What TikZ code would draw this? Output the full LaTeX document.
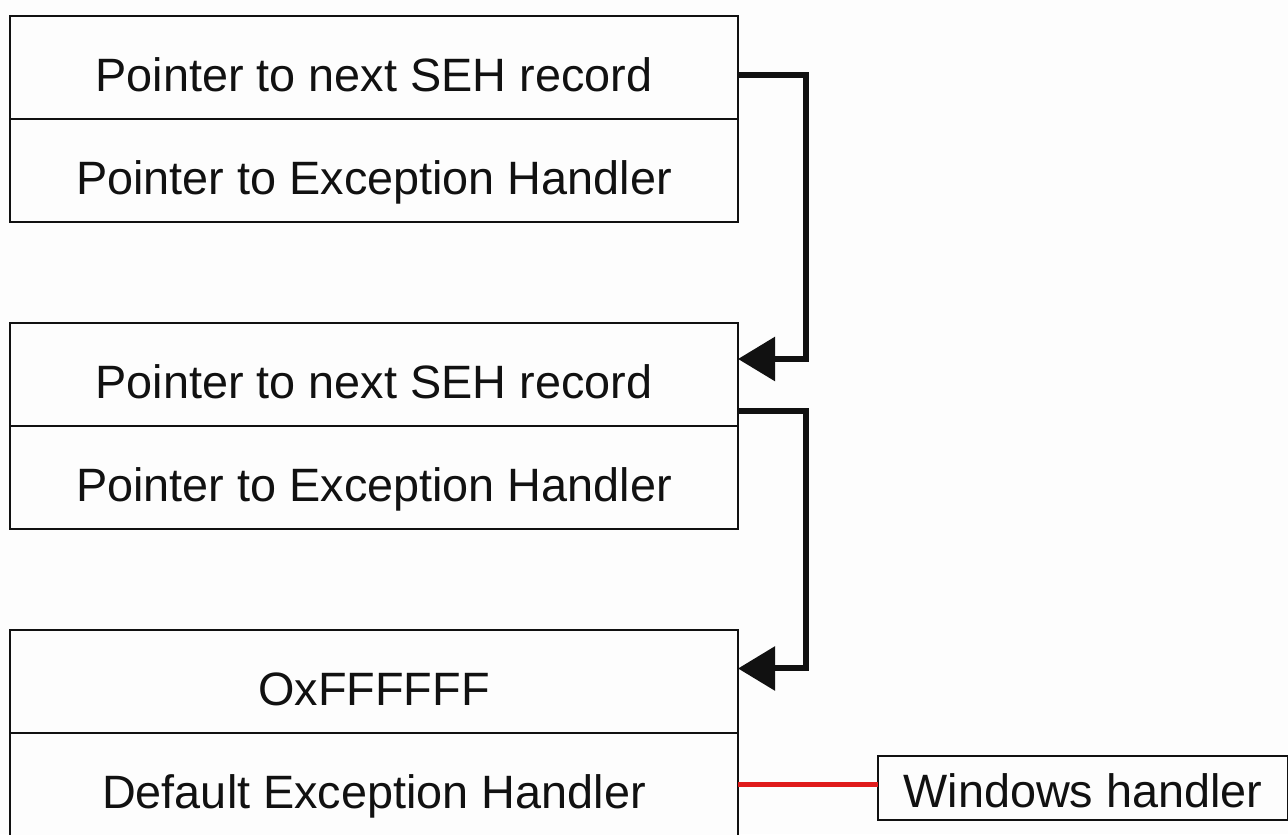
\documentclass[tikz,border=0pt]{standalone}
\usepackage{fontspec}
\setmainfont{Liberation Sans}
\usetikzlibrary{arrows.meta,positioning}
\definecolor{ink}{HTML}{111111}
\definecolor{paper}{HTML}{FDFDFD}
\definecolor{hookred}{HTML}{E01B1B}
\tikzset{
  cell/.style={
    rectangle,
    draw=ink,
    line width=1pt,
    fill=paper,
    outer sep=0pt,
    minimum width=364pt,
    minimum height=51.5pt,
    inner ysep=2pt,
    text height=23.75pt,
    text depth=0pt,
    font=\fontsize{23.4}{28}\selectfont,
    text=ink
  },
  smallcell/.style={
    cell,
    minimum width=205pt,
    minimum height=32pt,
    text height=19.5pt
  },
  link/.style={
    -{Triangle[length=18.5pt,width=21.5pt]},
    draw=ink,
    line width=3pt
  },
  hook/.style={
    draw=hookred,
    line width=2.5pt
  }
}
\begin{document}
\begin{tikzpicture}[x=0.5pt,y=0.5pt]
  \fill[paper] (0,0) rectangle (1288,834);
  \useasboundingbox (0,0) rectangle (1288,834);

  \node[cell] (rec1a) at (374,766.5) {Pointer to next SEH record};
  \node[cell, below=0pt of rec1a] (rec1b) {Pointer to Exception Handler};

  \node[cell, below=50.5pt of rec1b] (rec2a) {Pointer to next SEH record};
  \node[cell, below=0pt of rec2a] (rec2b) {Pointer to Exception Handler};

  \node[cell, below=50.5pt of rec2b] (rec3a) {OxFFFFFF};
  \node[cell, below=0pt of rec3a] (rec3b) {Default Exception Handler};

  \node[smallcell, anchor=west] (winh) at ([xshift=70pt,yshift=-1.75pt]rec3b.east) {Windows handler};

  \draw[link] ([yshift=-3.75pt]rec1a.east) -- ++(34pt,0) |- ([yshift=7.75pt]rec2a.east);
  \draw[link] ([yshift=-18.25pt]rec2a.east) -- ++(34pt,0) |- ([yshift=6.5pt]rec3a.east);
  \draw[hook] (rec3b.east) -- (rec3b.east -| winh.west);
\end{tikzpicture}
\end{document}
